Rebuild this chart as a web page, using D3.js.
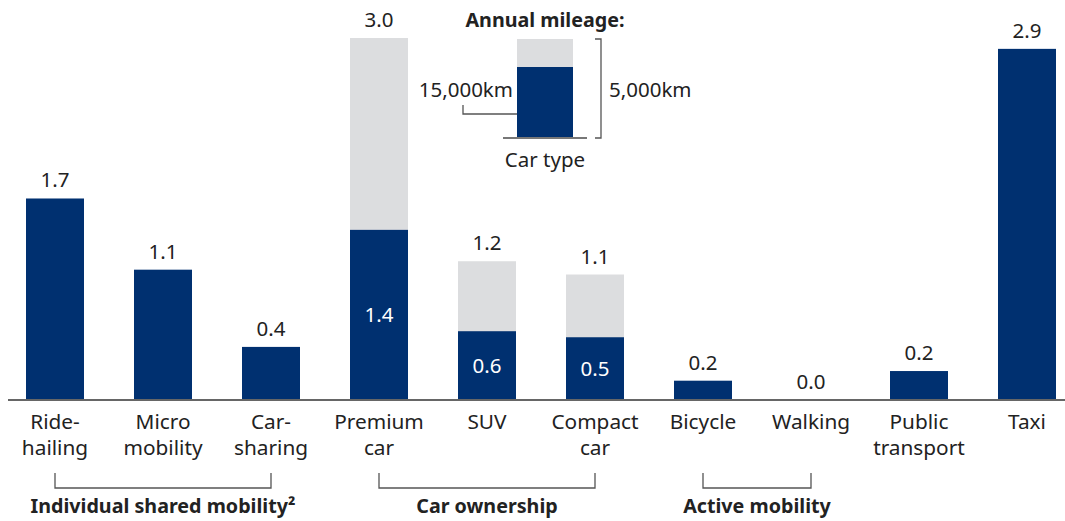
<!DOCTYPE html>
<html>
<head>
<meta charset="utf-8">
<script src="https://cdn.jsdelivr.net/npm/d3@7"></script>
<style>
  body { margin: 0; background: #fff; }
  svg { display: block; font-family: "Noto Sans", "Open Sans", sans-serif; }
  .cat-label { font-size: 20.8px; fill: #222; }
  .value-label { font-size: 20.5px; fill: #222; }
  .inner-label { font-size: 20.5px; fill: #fff; }
  .group-label { font-size: 19.7px; font-weight: bold; fill: #222; }
  .bracket { fill: none; stroke: #555; stroke-width: 1.3; }
</style>
</head>
<body>
<div id="content"></div>
<script>
// Categories (each label line separately)
var categories = ["Ride-hailing", "Micro mobility", "Car-sharing", "Premium car", "SUV",
                  "Compact car", "Bicycle", "Walking", "Public transport", "Taxi"];
var categoryLines = [["Ride-", "hailing"], ["Micro", "mobility"], ["Car-", "sharing"], ["Premium", "car"],
                     ["SUV"], ["Compact", "car"], ["Bicycle"], ["Walking"], ["Public", "transport"], ["Taxi"]];

// Total value at 5,000km/year (whole bar height)
var totalValues = [1.67, 1.08, 0.44, 3.0, 1.15, 1.04, 0.16, 0.0, 0.24, 2.91];
var totalLabels = ["1.7", "1.1", "0.4", "3.0", "1.2", "1.1", "0.2", "0.0", "0.2", "2.9"];

// Value at 15,000km/year (dark part of car bars only)
var ownedValues = [null, null, null, 1.41, 0.57, 0.52, null, null, null, null];
var ownedLabels = [null, null, null, "1.4", "0.6", "0.5", null, null, null, null];

// Groups under the axis
var groups = [
    { name: "Individual shared mobility\u00b2", from: "Ride-hailing", to: "Car-sharing" },
    { name: "Car ownership", from: "Premium car", to: "Compact car" },
    { name: "Active mobility", from: "Bicycle", to: "Walking" }
];

// Legend
var legendTitle = "Annual mileage:";
var legendHigh = "15,000km";
var legendLow = "5,000km";
var legendCaption = "Car type";

var svgWidth = 1065;
var svgHeight = 521;
var baseline = 400;

var navy = "#003070";
var lightGray = "#dcdddf";

var svg = d3.select("#content").append("svg")
    .attr("width", svgWidth)
    .attr("height", svgHeight);

var xScale = d3.scaleBand()
    .domain(categories)
    .range([1, 1081])
    .paddingInner(0.463)
    .paddingOuter(0.2315);

var yScale = d3.scaleLinear()
    .domain([0, 3])
    .range([baseline, 38]);

var bw = xScale.bandwidth();

// Light (total) bars for cars, dark bars elsewhere
svg.selectAll(".bar-total")
    .data(categories)
    .enter().append("rect")
    .attr("class", "bar-total")
    .attr("x", function (d) { return xScale(d); })
    .attr("y", function (d, i) { return yScale(totalValues[i]); })
    .attr("width", bw)
    .attr("height", function (d, i) { return baseline - yScale(totalValues[i]); })
    .attr("fill", function (d, i) { return ownedValues[i] == null ? navy : lightGray; });

// Dark parts for owned cars
svg.selectAll(".bar-owned")
    .data(categories.filter(function (d, i) { return ownedValues[i] != null; }))
    .enter().append("rect")
    .attr("class", "bar-owned")
    .attr("x", function (d) { return xScale(d); })
    .attr("y", function (d) { return yScale(ownedValues[categories.indexOf(d)]); })
    .attr("width", bw)
    .attr("height", function (d) { return baseline - yScale(ownedValues[categories.indexOf(d)]); })
    .attr("fill", navy);

// Labels above bars
svg.selectAll(".value-label")
    .data(categories)
    .enter().append("text")
    .attr("class", "value-label")
    .attr("text-anchor", "middle")
    .attr("x", function (d) { return xScale(d) + bw / 2; })
    .attr("y", function (d, i) { return yScale(totalValues[i]) - 11; })
    .text(function (d, i) { return totalLabels[i]; });

// Labels inside dark parts
svg.selectAll(".inner-label")
    .data(categories.filter(function (d, i) { return ownedValues[i] != null; }))
    .enter().append("text")
    .attr("class", "inner-label")
    .attr("text-anchor", "middle")
    .attr("x", function (d) { return xScale(d) + bw / 2; })
    .attr("y", function (d) {
        var v = ownedValues[categories.indexOf(d)];
        return (yScale(v) + baseline) / 2 + 7;
    })
    .text(function (d) { return ownedLabels[categories.indexOf(d)]; });

// Axis line
svg.append("line")
    .attr("x1", 8).attr("x2", svgWidth)
    .attr("y1", baseline).attr("y2", baseline)
    .attr("stroke", "#666")
    .attr("stroke-width", 2);

// Category labels
var catText = svg.selectAll(".cat-label")
    .data(categories)
    .enter().append("text")
    .attr("class", "cat-label")
    .attr("text-anchor", "middle")
    .attr("x", function (d) { return xScale(d) + bw / 2; })
    .attr("y", 429);

catText.selectAll("tspan")
    .data(function (d, i) { return categoryLines[i]; })
    .enter().append("tspan")
    .attr("x", function () { return d3.select(this.parentNode).attr("x"); })
    .attr("dy", function (d, i) { return i == 0 ? 0 : 26; })
    .text(function (d) { return d; });

// Group brackets and names
groups.forEach(function (g) {
    var x1 = xScale(g.from) + bw / 2;
    var x2 = xScale(g.to) + bw / 2;
    svg.append("path")
        .attr("class", "bracket")
        .attr("d", "M" + x1 + ",473V488H" + x2 + "V473");
    svg.append("text")
        .attr("class", "group-label")
        .attr("text-anchor", "middle")
        .attr("x", (x1 + x2) / 2)
        .attr("y", 513)
        .text(g.name);
});

// Legend (schematic bar)
var legendX = 517, legendW = 56, legendTop = 39, legendDarkTop = 67, legendBottom = 138;
var legend = svg.append("g").attr("class", "legend");

legend.append("text")
    .attr("class", "group-label")
    .attr("text-anchor", "middle")
    .attr("x", 545)
    .attr("y", 27)
    .text(legendTitle);

legend.append("rect")
    .attr("x", legendX).attr("y", legendTop)
    .attr("width", legendW).attr("height", legendBottom - legendTop)
    .attr("fill", lightGray);
legend.append("rect")
    .attr("x", legendX).attr("y", legendDarkTop)
    .attr("width", legendW).attr("height", legendBottom - legendDarkTop)
    .attr("fill", navy);

legend.append("line")
    .attr("x1", 503).attr("x2", 587)
    .attr("y1", legendBottom).attr("y2", legendBottom)
    .attr("stroke", "#777").attr("stroke-width", 2);

legend.append("path")
    .attr("class", "bracket")
    .attr("d", "M595," + legendTop + "H601V" + legendBottom + "H595");

legend.append("path")
    .attr("class", "bracket")
    .attr("d", "M463,105V114H" + legendX);

legend.append("text")
    .attr("class", "value-label")
    .attr("text-anchor", "end")
    .attr("x", 513)
    .attr("y", 97)
    .text(legendHigh);

legend.append("text")
    .attr("class", "value-label")
    .attr("x", 609)
    .attr("y", 97)
    .text(legendLow);

legend.append("text")
    .attr("class", "value-label")
    .attr("text-anchor", "middle")
    .attr("x", 545)
    .attr("y", 167)
    .text(legendCaption);
</script>
</body>
</html>
